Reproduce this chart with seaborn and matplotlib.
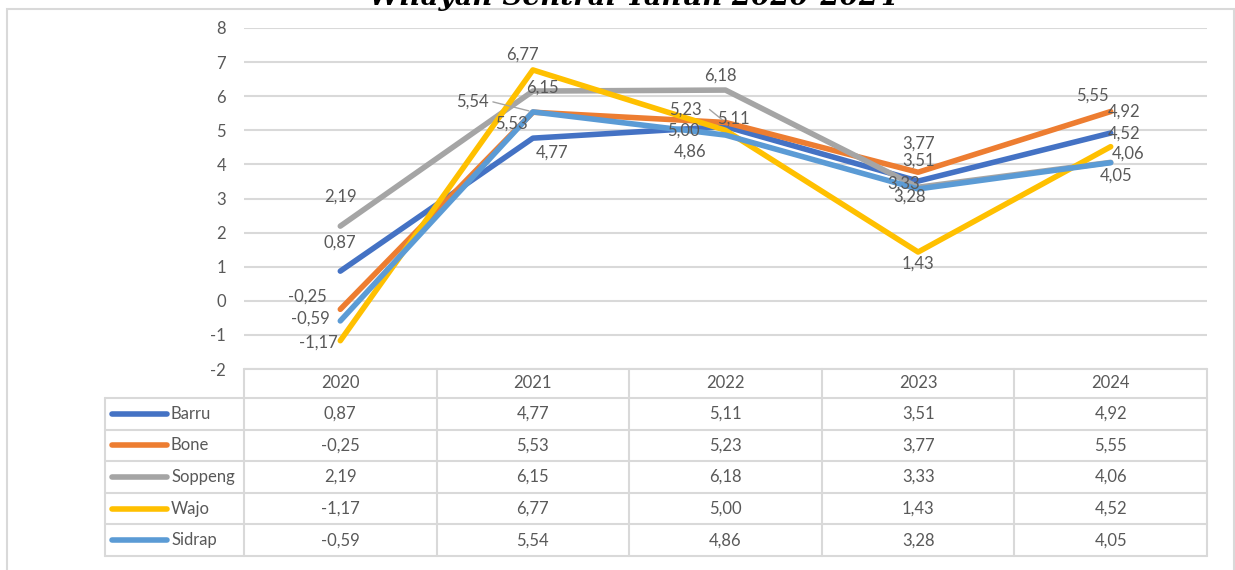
import matplotlib
matplotlib.use("Agg")
import matplotlib.pyplot as plt
import seaborn as sns
import pandas as pd
from matplotlib.patches import Rectangle
from matplotlib.lines import Line2D

years = ["2020", "2021", "2022", "2023", "2024"]
regions = ["Barru", "Bone", "Soppeng", "Wajo", "Sidrap"]
barru = [0.87, 4.77, 5.11, 3.51, 4.92]
bone = [-0.25, 5.53, 5.23, 3.77, 5.55]
soppeng = [2.19, 6.15, 6.18, 3.33, 4.06]
wajo = [-1.17, 6.77, 5.00, 1.43, 4.52]
sidrap = [-0.59, 5.54, 4.86, 3.28, 4.05]
title = "Wilayah Sentral Tahun 2020-2024"

series = [barru, bone, soppeng, wajo, sidrap]
colors = ["#4472C4", "#ED7D31", "#A5A5A5", "#FFC000", "#5B9BD5"]

# label offsets in pixels (dx, dy) relative to each point, Excel-ish placement
offsets = [
    [(0, 29), (19, -14), (8, 8), (0, 20), (13, 21)],
    [(-33, 13), (-21, -11), (-40, 13), (0, 29), (-18, 16)],
    [(0, 29), (10, 3), (-5, 14), (-15, 4), (17, 9)],
    [(-22, -2), (-10, 15), (-42, 0), (0, -12), (13, 13)],
    [(-30, 2), (-60, 10), (-35, -17), (-9, -8), (5, -13)],
]

rows = []
for name, vals in zip(regions, series):
    for i, v in enumerate(vals):
        rows.append({"region": name, "x": i, "value": v})
df = pd.DataFrame(rows)

sns.set_style("white")
plt.rcParams["font.family"] = ["Lato", "DejaVu Sans"]
txt = "#595959"
grid = "#D9D9D9"
fs = 12

W, H = 1235, 570
fig = plt.figure(figsize=(W / 100, H / 100), dpi=100)

# outer frame
fig.patches.append(Rectangle((7 / W, -0.05), (1234 - 7) / W, 1.05 - 9 / H,
                             transform=fig.transFigure, fill=False,
                             edgecolor=grid, linewidth=1.5))

L, R, T, B = 244, 1207, 28, 369
ax = fig.add_axes([L / W, 1 - B / H, (R - L) / W, (B - T) / H])
sns.lineplot(data=df, x="x", y="value", hue="region", hue_order=regions,
             palette=colors, linewidth=4, sort=False, legend=False, ax=ax,
             solid_capstyle="round", zorder=3)
ax.set_xlim(-0.5, 4.5)
ax.set_ylim(-2, 8)
ax.set_yticks(range(-2, 9))
ax.set_yticklabels([str(t) for t in range(-2, 9)])
ax.set_xticks([])
ax.set_xlabel("")
ax.set_ylabel("")
for t in range(-2, 9):
    ax.axhline(t, color=grid, linewidth=1.5, zorder=1)
for s in ax.spines.values():
    s.set_visible(False)
ax.tick_params(axis="y", length=0, pad=13, labelsize=fs, labelcolor=txt)

for vals, offs in zip(series, offsets):
    for i, (v, (dx, dy)) in enumerate(zip(vals, offs)):
        ax.annotate(f"{v:.2f}".replace(".", ","), (i, v), xytext=(dx, dy),
                    textcoords="offset pixels", ha="center", va="center",
                    fontsize=fs, color=txt, zorder=5)

# leader lines
ax.annotate("", (1, sidrap[1]), xytext=(-40, 10), textcoords="offset pixels",
            arrowprops=dict(arrowstyle="-", color="#A5A5A5", lw=1,
                            shrinkA=0, shrinkB=3))
ax.annotate("", (2, bone[2]), xytext=(-16, 13), textcoords="offset pixels",
            arrowprops=dict(arrowstyle="-", color="#A5A5A5", lw=1,
                            shrinkA=0, shrinkB=3))

# data table
TL, TB = 105, 556
tax = fig.add_axes([TL / W, 1 - TB / H, (R - TL) / W, (TB - B) / H])
tax.set_xlim(TL, R)
tax.set_ylim(TB, B)
tax.axis("off")
colw = (R - L) / len(years)
header_bottom = 398
rowh = (TB - header_bottom) / len(regions)
lw = 1.5
tax.plot([L, R], [B, B], color=grid, lw=lw, clip_on=False)
for k in range(len(regions) + 1):
    y = header_bottom + k * rowh
    tax.plot([TL, R], [y, y], color=grid, lw=lw, clip_on=False)
tax.plot([TL, TL], [header_bottom, TB], color=grid, lw=lw, clip_on=False)
for j in range(len(years) + 1):
    x = L + j * colw
    tax.plot([x, x], [B, TB], color=grid, lw=lw, clip_on=False)
for j, yr in enumerate(years):
    tax.text(L + (j + 0.5) * colw, (B + header_bottom) / 2, yr,
             ha="center", va="center", fontsize=fs, color=txt)
for k, (name, vals, c) in enumerate(zip(regions, series, colors)):
    yc = header_bottom + (k + 0.5) * rowh
    tax.add_line(Line2D([112, 167], [yc, yc], color=c, lw=4,
                        solid_capstyle="round"))
    tax.text(171, yc, name, ha="left", va="center", fontsize=fs, color=txt)
    for j, v in enumerate(vals):
        tax.text(L + (j + 0.5) * colw, yc, f"{v:.2f}".replace(".", ","),
                 ha="center", va="center", fontsize=fs, color=txt)

fig.text(633 / W, 1 - 5 / H, title, ha="center", va="baseline",
         fontsize=20, fontweight="bold", fontstyle="italic",
         family="DejaVu Serif", color="black")

fig.savefig("out.png", dpi=100)
